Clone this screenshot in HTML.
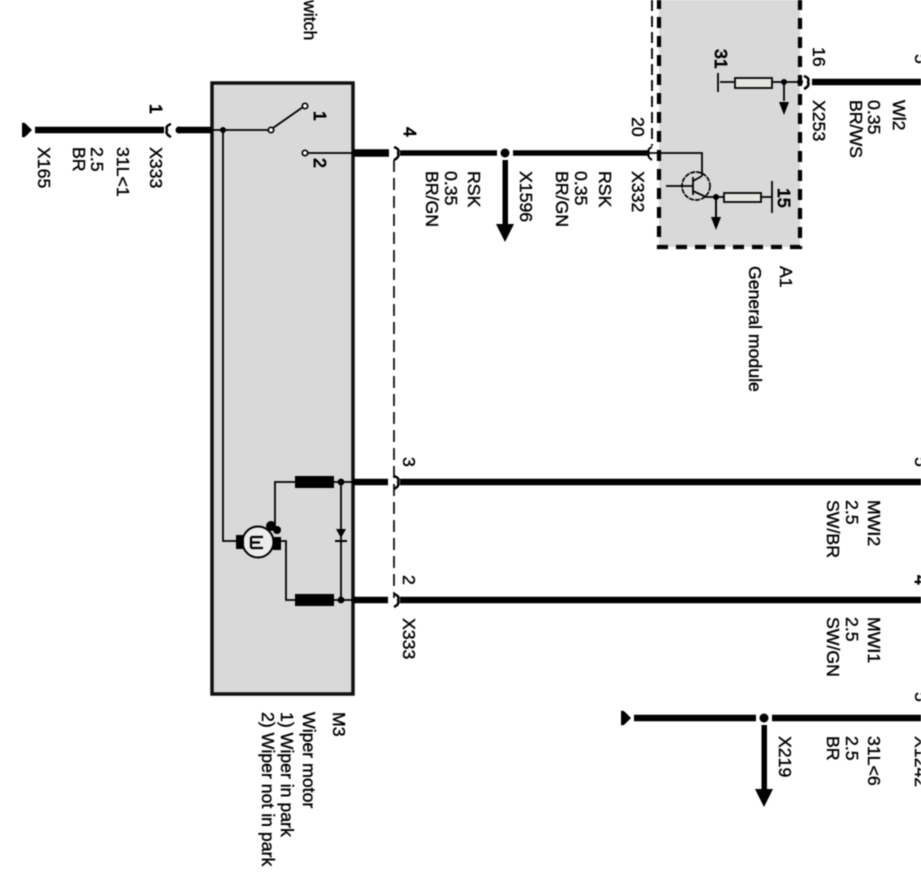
<!DOCTYPE html>
<html><head><meta charset="utf-8">
<style>
html,body{margin:0;padding:0;background:#fff;width:921px;height:894px;overflow:hidden}
svg{display:block;filter:blur(0.55px)}
text{font-family:"Liberation Sans",sans-serif;font-size:17.7px;fill:#000;stroke:#000;stroke-width:0.4}
.b{stroke-width:0.9}
</style></head><body>
<svg width="921" height="894" viewBox="0 0 921 894" xmlns="http://www.w3.org/2000/svg">
<!-- boxes -->
<rect x="212" y="83" width="141" height="611" fill="#d9d9d9" stroke="#111" stroke-width="3.5"/>
<rect x="659" y="-12" width="141" height="259" fill="#d9d9d9"/>
<path d="M659 -2V247H800V-2" fill="none" stroke="#000" stroke-width="4.2" stroke-dasharray="11 8"/>
<path d="M652 0V146" fill="none" stroke="#111" stroke-width="2" stroke-dasharray="11 5"/>
<path d="M394 160V598" fill="none" stroke="#111" stroke-width="1.8" stroke-dasharray="12 6"/>

<g fill="none" stroke="#000">
<!-- thick wires -->
<path d="M35 130H164M179 130H211" stroke-width="6.5"/>
<path d="M353 153H389" stroke-width="7.5"/>
<path d="M400 153H497M513 153H648" stroke-width="5.5"/>
<path d="M353 482H388M400 482H921M353 600H388M400 600H921" stroke-width="6.5"/>
<path d="M812 82H921" stroke-width="6.5"/>
<path d="M634 718H756M772 718H921" stroke-width="6.5"/>
<!-- connectors -->
<path d="M171 124Q165 126 167 130Q165 134 171 137" stroke-width="2.5"/>
<path d="M394 147Q400 149 398 153Q400 157 394 160M394 476Q400 478 398 482Q400 486 394 489M394 594Q400 596 398 600Q400 604 394 607" stroke-width="2.5"/>
<path d="M652 147Q647 149 649 153Q647 157 652 160" stroke-width="2"/>
<path d="M804 76Q810 78 808 82Q810 86 804 89" stroke-width="2.5"/>
<!-- switch -->
<path d="M211 130H268M223 130V541H240M273 128L303 107M307 153H353" stroke-width="1.8"/>
<circle cx="271" cy="130" r="2.7" stroke-width="1.7" fill="#fff"/>
<circle cx="305" cy="106" r="2.7" stroke-width="1.7" fill="#fff"/>
<circle cx="305" cy="153" r="2.7" stroke-width="1.7" fill="#fff"/>
<!-- motor wiring -->
<path d="M275 525V482H295M334 482H353M281 541H286V600H295M334 600H353M341 482V600" stroke-width="1.8"/>
<path d="M295 482H334M295 600H334" stroke-width="12"/>
<circle cx="258" cy="542" r="15.5" stroke-width="2" fill="#ececec"/>
<path d="M251 537V548M251 537H263M251 548H263M251 542.5H260" stroke-width="2.2"/>
<!-- A1 internals -->
<path d="M650 153H702V176M666 186H693M693 177V195M693 181L702 176M693 191L706 197H724M761 197H772M772 181V213M716 197V219M784 82V101M720 82H734M772 82H800M718 73V92" stroke-width="1.8"/>
<circle cx="696" cy="186" r="14" stroke-width="1.7" stroke-dasharray="5 1"/>
<rect x="724" y="193" width="37" height="9" stroke-width="1.8" fill="#e6e6e0"/>
<rect x="735" y="78" width="37" height="10" stroke-width="1.8" fill="#e6e6e0"/>
</g>
<g fill="#000" stroke="none">
<circle cx="223" cy="130" r="3"/>
<circle cx="505" cy="153" r="4.5"/>
<circle cx="764" cy="718" r="4.5"/>
<circle cx="341" cy="482" r="3.4"/>
<circle cx="341" cy="600" r="3.4"/>
<circle cx="716" cy="197" r="3"/>
<circle cx="784" cy="82" r="3"/>
<circle cx="800" cy="82" r="3"/>
<!-- grounds -->
<path d="M22 123Q24 122 26 124L32 130L26 136Q24 138 22 137Z"/>
<path d="M621 711Q623 710 625 712L631 718L625 724Q623 726 621 725Z"/>
<circle cx="179" cy="130" r="3.5"/>
<!-- arrows -->
<rect x="502.5" y="160" width="5.5" height="66"/>
<path d="M496 224H514L505 242Z"/>
<rect x="761.5" y="725" width="5.5" height="66"/>
<path d="M755 789H773L764 807Z"/>
<rect x="715" y="197" width="2" height="22"/>
<path d="M711 217H721L716 230Z"/>
<path d="M779 102H789L784 115Z"/>
<!-- motor blocks -->
<rect x="236" y="535" width="8" height="14"/>
<rect x="273" y="537" width="8" height="13"/>
<circle cx="271" cy="526" r="5"/>
<circle cx="277" cy="530" r="4"/>
<!-- diode -->
<path d="M336 529H346L341 538Z"/>
<rect x="335" y="540" width="12" height="2"/>
</g>
<g>
<text transform="translate(304,0) rotate(90)">witch</text>
<text class="b" transform="translate(150,104) rotate(90)">1</text>
<text transform="translate(150,147) rotate(90)">X333</text>
<text transform="translate(117,147) rotate(90)">31L&lt;1</text>
<text transform="translate(91,147) rotate(90)">2.5</text>
<text transform="translate(73,147) rotate(90)">BR</text>
<text transform="translate(38,147) rotate(90)">X165</text>
<text class="b" transform="translate(314,111) rotate(90)">1</text>
<text class="b" transform="translate(314,158) rotate(90)">2</text>
<text class="b" transform="translate(404,127) rotate(90)">4</text>
<text transform="translate(468,171) rotate(90)">RSK</text>
<text transform="translate(445,171) rotate(90)">0.35</text>
<text transform="translate(426,171) rotate(90)">BR/GN</text>
<text transform="translate(520,171) rotate(90)">X1596</text>
<text transform="translate(599,171) rotate(90)">RSK</text>
<text transform="translate(575,171) rotate(90)">0.35</text>
<text transform="translate(556,171) rotate(90)">BR/GN</text>
<text transform="translate(632,171) rotate(90)">X332</text>
<text transform="translate(632,117) rotate(90)">20</text>
<text transform="translate(813,47) rotate(90)">16</text>
<text transform="translate(813,100) rotate(90)">X253</text>
<text transform="translate(893,100) rotate(90)">Wl2</text>
<text transform="translate(868,100) rotate(90)">0.35</text>
<text transform="translate(850,100) rotate(90)">BR/WS</text>
<text class="b" transform="translate(715,49) rotate(90)">31</text>
<text class="b" transform="translate(778,188) rotate(90)">15</text>
<text transform="translate(780,266) rotate(90)">A1</text>
<text transform="translate(749,266) rotate(90)">General module</text>
<text transform="translate(403,457) rotate(90)">3</text>
<text transform="translate(403,575) rotate(90)">2</text>
<text transform="translate(403,618) rotate(90)">X333</text>
<text transform="translate(868,500) rotate(90)">MWI2</text>
<text transform="translate(846,500) rotate(90)">2.5</text>
<text transform="translate(827,500) rotate(90)">SW/BR</text>
<text transform="translate(868,617) rotate(90)">MWI1</text>
<text transform="translate(846,617) rotate(90)">2.5</text>
<text transform="translate(827,617) rotate(90)">SW/GN</text>
<text transform="translate(868,736) rotate(90)">31L&lt;6</text>
<text transform="translate(846,736) rotate(90)">2.5</text>
<text transform="translate(827,736) rotate(90)">BR</text>
<text transform="translate(779,736) rotate(90)">X219</text>
<text transform="translate(333,712) rotate(90)">M3</text>
<text transform="translate(303,712) rotate(90)">Wiper motor</text>
<text transform="translate(281,712) rotate(90)">1) Wiper in park</text>
<text transform="translate(262,712) rotate(90)">2) Wiper not in park</text>
<text transform="translate(915,54) rotate(90)">5</text>
<text transform="translate(915,457) rotate(90)">5</text>
<text class="b" transform="translate(915,575) rotate(90)">4</text>
<text transform="translate(915,692) rotate(90)">5</text>
<text transform="translate(915,736) rotate(90)">X1242</text>
</g>
</svg>
</body></html>
